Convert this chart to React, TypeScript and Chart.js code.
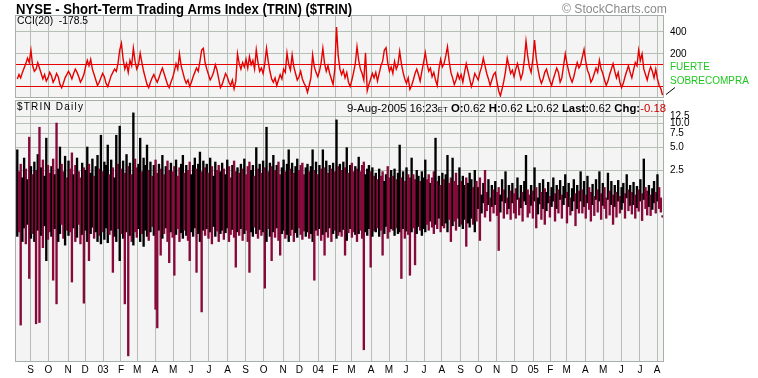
import React, { useEffect, useRef } from 'react';
import { Chart, registerables } from 'chart.js';

Chart.register(...registerables);

// ---------- data ----------
const totalDays = 758; // trading days Aug-8-2002 .. Aug-9-2005
const monthLabels = ['S','O','N','D','03','F','M','A','M','J','J','A','S','O','N','D','04','F','M','A','M','J','J','A','S','O','N','D','05','F','M','A','M','J','J','A'];
const monthStartDays = [17,38,61,81,102,123,142,163,184,205,226,248,269,290,313,332,354,374,393,416,437,457,478,499,521,542,563,584,606,626,645,667,688,709,731,751];

const cciTicks = [400, 200];
const cciBands = [100, -100];
const trinTicks = [12.5, 10, 7.5, 5, 2.5];
const trinTickLabels = ['12.5', '10.0', '7.5', '5.0', '2.5'];

// sampled every 2nd trading day (day = 2k+1)
const cciValues = [
  -30, 10, -20, 30, 70, 110, 160, 120, 233, 90,
  40, 60, 118, 70, 20, -30, 10, -50, -20, 30,
  0, -60, -30, 20, -10, -80, -110, -70, -20, 10,
  40, 10, -30, 20, 60, 30, -10, -60, -30, 10,
  80, 140, 90, 150, 60, 10, -40, -90, -60, -20,
  20, -10, -70, -100, -50, 0, 30, 60, 40, 110,
  233, 296, 150, 60, 110, 30, 140, 90, 250, 130,
  60, 100, 206, 120, 40, -20, -80, -110, -60, -20,
  10, -30, -60, -20, 30, 70, 20, -30, -80, -110,
  -60, -20, 40, 110, 60, 200, 90, 30, -30, -70,
  -40, -100, -60, -10, 30, 70, 40, 130, 233, 250,
  120, 60, 10, -40, -10, 30, 100, 50, -30, -110,
  -80, -30, 20, -10, -60, -90, -40, -120, -50, 200,
  110, 60, 120, 80, 150, 70, 175, 100, 140, 60,
  236, 120, 40, 70, 20, 110, 250, 130, 40, -30,
  -60, -20, -90, -40, 10, -30, 60, 30, 206, 100,
  50, 190, 80, 20, -40, -10, 40, -30, -70, -100,
  -152, -90, -20, 190, 80, 30, -10, 40, 120, 250,
  110, 40, 90, 20, -30, -80, 60, 445, 180, 60,
  10, 50, -20, 30, -60, -100, -40, 30, 110, 264,
  140, 60, 20, -40, 210, -137, -80, -30, 20, -20,
  30, -50, 20, 90, 130, 233, 255, 120, 40, 80,
  20, 130, 60, 100, 222, 110, 30, -30, -70, -20,
  -125, -90, -40, 20, 60, 10, -50, 40, 120, 210,
  110, 40, 70, -10, 30, -40, -90, 60, 150, 80,
  110, 180, 265, 130, 30, -20, -80, -40, 20, -30,
  10, -60, 30, 110, 40, -30, -100, -50, 20, -10,
  -40, 30, 80, 160, 90, 20, -30, -90, -40, 10,
  30, -60, -140, -185, -120, -50, 40, 160, 90, 20,
  50, -10, 60, 110, 40, -30, 20, 140, 316, 180,
  80, 30, 150, 325, 160, 60, -20, -70, -30, 30,
  60, 0, -50, -90, -30, 20, 70, 30, -60, -20,
  90, 200, 110, 40, -20, -60, -10, 60, 120, 70,
  100, 170, 240, 130, 50, 10, -60, -30, 20, 70,
  30, 140, 60, 20, -40, -90, -50, 10, 60, 110,
  40, -20, 30, -60, -110, -70, -10, 40, 90, 30,
  -20, 50, 120, 90, 233, 140, 200, 60, 10, -40,
  30, 80, 40, -20, 60, -30, -90, -120, -178.5,
];

const trinLow = [
  0.35, 0.4, 0.025, 0.3, 0.45, 0.28, 0.5, 0.1, 0.33, 0.38,
  0.3, 0.026, 0.42, 0.027, 0.36, 0.25, 0.48, 0.17, 0.32, 0.4,
  0.35, 0.095, 0.44, 0.047, 0.3, 0.38, 0.5, 0.33, 0.27, 0.42,
  0.36, 0.4, 0.09, 0.45, 0.3, 0.34, 0.5, 0.28, 0.37, 0.048,
  0.42, 0.3, 0.17, 0.38, 0.46, 0.33, 0.4, 0.3, 0.36, 0.28,
  0.4, 0.32, 0.45, 0.29, 0.37, 0.42, 0.12, 0.35, 0.3, 0.44,
  0.17, 0.38, 0.33, 0.047, 0.4, 0.01, 0.36, 0.3, 0.27, 0.4,
  0.34, 0.44, 0.3, 0.38, 0.26, 0.42, 0.35, 0.31, 0.4, 0.47,
  0.36, 0.04, 0.023, 0.42, 0.2, 0.33, 0.38, 0.45, 0.3, 0.16,
  0.4, 0.34, 0.11, 0.37, 0.44, 0.3, 0.39, 0.33, 0.42, 0.36,
  0.31, 0.17, 0.4, 0.35, 0.45, 0.12, 0.38, 0.3, 0.037, 0.42,
  0.36, 0.44, 0.33, 0.4, 0.28, 0.47, 0.35, 0.41, 0.3, 0.38,
  0.42, 0.32, 0.39, 0.45, 0.3, 0.37, 0.43, 0.34, 0.14, 0.4,
  0.36, 0.44, 0.31, 0.38, 0.42, 0.3, 0.12, 0.4, 0.35, 0.46,
  0.38, 0.33, 0.43, 0.36, 0.4, 0.075, 0.3, 0.44, 0.35, 0.17,
  0.4, 0.34, 0.45, 0.31, 0.2, 0.38, 0.42, 0.33, 0.37, 0.3,
  0.36, 0.43, 0.3, 0.39, 0.34, 0.45, 0.37, 0.32, 0.41, 0.35,
  0.4, 0.33, 0.38, 0.3, 0.095, 0.42, 0.36, 0.44, 0.31, 0.37,
  0.2, 0.4, 0.34, 0.45, 0.3, 0.38, 0.42, 0.33, 0.36, 0.4,
  0.35, 0.43, 0.2, 0.31, 0.39, 0.44, 0.34, 0.4, 0.37, 0.3,
  0.38, 0.42, 0.33, 0.012, 0.4, 0.36, 0.44, 0.14, 0.35, 0.41,
  0.4, 0.45, 0.35, 0.42, 0.2, 0.38, 0.47, 0.33, 0.4, 0.44,
  0.42, 0.36, 0.45, 0.38, 0.4, 0.1, 0.44, 0.33, 0.41, 0.37,
  0.11, 0.4, 0.45, 0.15, 0.38, 0.47, 0.42, 0.36, 0.44, 0.4,
  0.5, 0.42, 0.55, 0.46, 0.38, 0.5, 0.44, 0.6, 0.4, 0.48,
  0.45, 0.52, 0.4, 0.58, 0.3, 0.48, 0.55, 0.42, 0.6, 0.47,
  0.5, 0.44, 0.58, 0.26, 0.52, 0.46, 0.6, 0.5, 0.4, 0.55,
  0.8, 0.31, 0.7, 0.95, 0.62, 0.75, 0.9, 0.55, 0.85, 0.7,
  0.9, 0.65, 0.23, 0.72, 1.0, 0.6, 0.95, 0.68, 0.8, 0.58,
  0.95, 0.7, 0.6, 1.05, 0.66, 0.82, 0.55, 1.0, 0.9, 0.62,
  0.7, 0.88, 0.6, 1.0, 0.45, 0.68, 0.92, 0.58, 0.8, 0.5,
  0.75, 0.95, 0.62, 0.85, 1.0, 0.55, 0.8, 0.7, 1.05, 0.6,
  0.9, 1.1, 0.52, 0.85, 0.66, 0.75, 1.0, 0.48, 0.8, 0.7,
  1.0, 0.7, 0.85, 0.6, 0.95, 0.78, 0.55, 0.9, 0.65, 1.05,
  0.72, 1.0, 0.58, 0.88, 0.8, 0.6, 1.05, 0.66, 0.9, 0.5,
  0.85, 0.62, 1.0, 0.7, 0.78, 0.95, 0.6, 1.1, 0.75, 0.88,
  0.68, 0.9, 0.6, 0.82, 0.74, 1.0, 0.56, 1.05, 0.8, 0.66,
  0.85, 0.65, 0.78, 0.95, 0.7, 1.0, 0.8, 0.72, 0.62,
];

const trinHigh = [
  4.6, 2.4, 3.0, 2.0, 3.6, 2.6, 1.9, 6.7, 2.8, 2.2,
  3.2, 2.5, 4.0, 9.0, 2.7, 3.4, 2.1, 6.5, 2.9, 2.3,
  2.8, 3.5, 2.2, 10.2, 2.6, 5.0, 3.0, 2.4, 3.8, 2.0,
  3.3, 2.6, 4.2, 2.2, 2.9, 3.6, 2.4, 2.0, 3.1, 2.7,
  2.5, 5.0, 3.0, 2.3, 3.5, 2.1, 2.8, 3.9, 2.6, 7.1,
  2.4, 3.2, 2.9, 5.3, 2.2, 3.4, 2.7, 2.0, 7.1, 3.0,
  9.3, 2.6, 3.3, 2.3, 4.0, 2.8, 3.1, 2.2, 13.8, 3.5,
  2.7, 3.0, 6.5, 2.4, 3.6, 2.9, 5.3, 2.5, 3.2, 2.1,
  2.9, 3.4, 2.3, 3.0, 2.6, 3.9, 2.2, 2.8, 3.3, 2.5,
  3.1, 2.4, 2.8, 3.4, 2.1, 2.7, 3.0, 3.9, 2.3, 2.9,
  2.5, 3.2, 2.2, 2.9, 3.6, 2.6, 3.0, 4.3, 2.4, 3.3,
  2.7, 3.0, 2.3, 3.6, 2.8, 2.1, 3.2, 2.5, 2.9, 2.4,
  3.1, 2.6, 2.2, 3.4, 2.8, 2.0, 2.9, 3.3, 2.4, 2.7,
  2.3, 3.0, 2.6, 3.5, 2.2, 2.8, 3.2, 2.5, 2.9, 2.1,
  4.9, 2.6, 3.0, 2.3, 3.3, 2.7, 9.0, 2.4, 3.1, 2.8,
  3.9, 2.5, 2.9, 3.2, 2.2, 2.7, 3.4, 2.4, 3.0, 4.6,
  2.6, 3.1, 2.3, 2.8, 3.5, 2.5, 2.9, 3.1, 2.2, 2.7,
  3.0, 2.4, 2.8, 4.6, 2.5, 3.2, 2.2, 2.9, 2.6, 4.6,
  2.7, 3.3, 2.3, 2.9, 2.6, 3.1, 2.4, 11.2, 2.8, 3.0,
  2.5, 3.2, 2.7, 4.9, 2.3, 2.9, 3.1, 2.4, 2.8, 2.6,
  3.7, 2.4, 2.9, 3.2, 2.2, 2.6, 2.9, 2.4, 2.7, 2.1,
  2.3, 1.9, 2.6, 2.1, 2.4, 1.8, 2.2, 2.8, 2.0, 2.5,
  2.1, 2.6, 1.9, 2.3, 5.3, 2.0, 2.4, 1.8, 2.7, 2.2,
  2.0, 3.6, 2.2, 1.9, 2.5, 2.1, 1.8, 2.4, 2.0, 3.4,
  1.9, 2.2, 1.7, 2.0, 2.4, 6.5, 1.8, 2.1, 1.6, 2.3,
  1.9, 2.2, 3.9, 1.7, 2.0, 3.6, 1.8, 2.3, 1.6, 2.7,
  1.8, 2.1, 1.6, 2.0, 1.7, 2.3, 1.9, 1.5, 2.5, 1.8,
  1.5, 2.0, 1.2, 1.7, 2.5, 1.3, 1.9, 1.1, 1.6, 1.4,
  1.8, 1.3, 1.5, 1.2, 1.9, 1.4, 2.4, 1.1, 1.6, 1.35,
  1.7, 1.25, 1.45, 2.0, 1.1, 1.6, 1.3, 1.8, 3.9, 1.4,
  1.2, 1.6, 1.35, 2.7, 1.5, 1.1, 1.7, 1.3, 1.9, 1.45,
  1.3, 1.75, 1.15, 1.5, 2.0, 1.25, 1.6, 1.4, 1.85, 1.2,
  1.55, 2.2, 1.3, 1.7, 1.1, 1.45, 1.9, 1.25, 1.6, 1.35,
  2.4, 1.4, 1.8, 1.2, 2.1, 1.5, 1.3, 1.65, 1.15, 1.9,
  1.4, 2.4, 1.25, 1.7, 1.5, 1.1, 2.3, 1.35, 1.8, 1.2,
  1.6, 1.3, 1.85, 1.15, 1.5, 1.7, 1.25, 2.2, 1.4, 1.6,
  1.3, 1.75, 1.2, 1.55, 1.4, 1.9, 1.25, 3.5, 1.5, 1.35,
  1.6, 1.2, 1.45, 1.8, 1.3, 2.2, 1.5, 1.1, 0.62,
];

const titleText = 'NYSE - Short-Term Trading Arms Index (TRIN) ($TRIN)';
const copyrightText = '\u00A9 StockCharts.com';
const cciLabel = 'CCI(20)  -178.5';
const bandLabels = ['FUERTE', 'SOBRECOMPRA'];
const seriesLabel = '$TRIN Daily';
const headerSegments = [
  { t: '9-Aug-2005 16:23', bold: false, size: 11, color: '#000' },
  { t: 'ET', bold: false, size: 7.5, color: '#000' },
  { t: ' O:', bold: true, size: 11, color: '#000' },
  { t: '0.62', bold: false, size: 11, color: '#000' },
  { t: ' H:', bold: true, size: 11, color: '#000' },
  { t: '0.62', bold: false, size: 11, color: '#000' },
  { t: ' L:', bold: true, size: 11, color: '#000' },
  { t: '0.62', bold: false, size: 11, color: '#000' },
  { t: ' Last:', bold: true, size: 11, color: '#000' },
  { t: '0.62', bold: false, size: 11, color: '#000' },
  { t: ' Chg:', bold: true, size: 11, color: '#000' },
  { t: '-0.18', bold: false, size: 11, color: '#cc0000' },
];

// ---------- styling ----------
const FONT = '"Liberation Sans", Arial, Helvetica, sans-serif';
const GRID = '#b6bfb6';
const PLOT_BG = '#f4f4f4';
const CCI_RED = '#e60000';
const BAR_BLACK = '#000000';
const BAR_MAROON = '#850a3a';

function fitText(ctx: CanvasRenderingContext2D, text: string, x: number, y: number, font: string, color: string, width?: number) {
  ctx.save();
  ctx.font = font;
  ctx.fillStyle = color;
  ctx.textAlign = 'left';
  ctx.textBaseline = 'alphabetic';
  if (width) {
    const w = ctx.measureText(text).width;
    ctx.translate(x, y);
    ctx.scale(width / w, 1);
    ctx.fillText(text, 0, 0);
  } else {
    ctx.fillText(text, x, y);
  }
  ctx.restore();
}

const panelPlugin = {
  id: 'panelBg',
  beforeDraw(chart: any) {
    const { ctx, chartArea: a } = chart;
    ctx.save();
    ctx.fillStyle = PLOT_BG;
    ctx.fillRect(a.left, a.top, a.right - a.left, a.bottom - a.top);
    ctx.restore();
  },
  afterDraw(chart: any) {
    const { ctx, chartArea: a } = chart;
    ctx.save();
    ctx.strokeStyle = '#a8aea8';
    ctx.lineWidth = 1;
    ctx.strokeRect(Math.round(a.left) - 0.5, Math.round(a.top) - 0.5, Math.round(a.right - a.left) + 1, Math.round(a.bottom - a.top) + 1);
    ctx.restore();
  },
};

const topTextPlugin = {
  id: 'topText',
  afterDraw(chart: any) {
    const ctx = chart.ctx as CanvasRenderingContext2D;
    fitText(ctx, titleText, 16, 13.5, `bold 14px ${FONT}`, '#000', 336);
    fitText(ctx, copyrightText, 562, 12.5, `12px ${FONT}`, '#8a8a8a', 105);
    fitText(ctx, cciLabel, 17, 24, `10px ${FONT}`, '#000', 71);
    fitText(ctx, bandLabels[0], 670, 70, `10px ${FONT}`, '#1ec81e');
    fitText(ctx, bandLabels[1], 670, 84, `10px ${FONT}`, '#1ec81e');
    ctx.save();
    ctx.strokeStyle = '#000';
    ctx.lineWidth = 1;
    ctx.beginPath();
    ctx.moveTo(666, 94.5);
    ctx.lineTo(675, 87.5);
    ctx.stroke();
    ctx.restore();
  },
};

const bottomTextPlugin = {
  id: 'bottomText',
  afterDraw(chart: any) {
    const ctx = chart.ctx as CanvasRenderingContext2D;
    ctx.save();
    (ctx as any).letterSpacing = '1.2px';
    fitText(ctx, seriesLabel, 17, 10.5, `10px ${FONT}`, '#000');
    ctx.restore();
    // right aligned header, fitted to the reference width
    let total = 0;
    const widths: number[] = [];
    for (const s of headerSegments) {
      ctx.font = `${s.bold ? 'bold ' : ''}${s.size}px ${FONT}`;
      const w = ctx.measureText(s.t).width;
      widths.push(w);
      total += w;
    }
    const targetW = 319;
    const k = targetW / total;
    let x = 666 - targetW;
    headerSegments.forEach((s, i) => {
      fitText(ctx, s.t, x, 12.5, `${s.bold ? 'bold ' : ''}${s.size}px ${FONT}`, s.color, widths[i] * k);
      x += widths[i] * k;
    });
  },
};

function stripPadding(s: any) {
  s.paddingTop = 0;
  s.paddingBottom = 0;
  s.paddingLeft = 0;
  s.paddingRight = 0;
}

export default function App() {
  const topRef = useRef<HTMLCanvasElement | null>(null);
  const botRef = useRef<HTMLCanvasElement | null>(null);

  useEffect(() => {
    const xMin = -0.5;
    const xMax = totalDays - 0.5;
    const monthTicks = () => monthStartDays.map((d) => ({ value: d - 0.5 }));

    const top = new Chart(topRef.current as HTMLCanvasElement, {
      type: 'line',
      data: {
        datasets: [
          {
            data: cciValues.map((v, k) => ({ x: 2 * k + 1, y: v })),
            borderColor: CCI_RED,
            borderWidth: 1.4,
            pointRadius: 0,
            tension: 0,
            fill: false,
          },
        ],
      },
      options: {
        animation: false,
        responsive: false,
        maintainAspectRatio: false,
        events: [],
        layout: { autoPadding: false, padding: { left: 16, top: 16, right: 0, bottom: 0 } },
        plugins: { legend: { display: false }, tooltip: { enabled: false }, title: { display: false } },
        scales: {
          x: {
            type: 'linear',
            min: xMin,
            max: xMax,
            ticks: { display: false },
            grid: { color: GRID, drawTicks: false, lineWidth: 1 },
            border: { display: false },
            afterBuildTicks: (s: any) => { s.ticks = monthTicks(); },
            afterFit: (s: any) => { s.height = 2; stripPadding(s); },
          },
          y: {
            type: 'linear',
            position: 'right',
            min: -195,
            max: 545,
            ticks: {
              autoSkip: false,
              padding: 7,
              color: '#000',
              font: { size: 10, family: FONT },
              callback: (v: any) => (cciTicks.includes(Number(v)) ? String(v) : ''),
            },
            grid: {
              drawTicks: false,
              color: (c: any) => (c.tick && cciBands.includes(c.tick.value) ? CCI_RED : GRID),
              lineWidth: 1,
            },
            border: { display: false },
            afterBuildTicks: (s: any) => { s.ticks = [...cciTicks, ...cciBands].map((v) => ({ value: v })); },
            afterFit: (s: any) => { s.width = 95; stripPadding(s); },
          },
        },
      } as any,
      plugins: [panelPlugin, topTextPlugin],
    });

    const mids = trinLow.map((lo, k) => Math.sqrt(lo * trinHigh[k]));
    const bot = new Chart(botRef.current as HTMLCanvasElement, {
      type: 'bar',
      data: {
        datasets: [
          {
            data: trinLow.map((lo, k) => ({ x: 2 * k + 1, y: [lo, trinHigh[k]] })) as any,
            backgroundColor: (c: any) => {
              const i = c.dataIndex;
              if (i === undefined || i === 0) return BAR_BLACK;
              return mids[i] >= mids[i - 1] ? BAR_BLACK : BAR_MAROON;
            },
            borderWidth: 0,
            barThickness: 1.7,
            minBarLength: 1.5,
          },
        ],
      },
      options: {
        animation: false,
        responsive: false,
        maintainAspectRatio: false,
        events: [],
        layout: { autoPadding: false, padding: { left: 16, top: 2, right: 0, bottom: 0 } },
        plugins: { legend: { display: false }, tooltip: { enabled: false }, title: { display: false } },
        scales: {
          x: {
            type: 'linear',
            offset: false,
            min: xMin,
            max: xMax,
            grid: { offset: false, color: GRID, drawTicks: false, lineWidth: 1 },
            border: { display: false },
            ticks: {
              autoSkip: false,
              maxRotation: 0,
              padding: 3,
              color: '#000',
              font: { size: 10, family: FONT },
              callback: (_v: any, i: number) => monthLabels[i],
            },
            afterBuildTicks: (s: any) => { s.ticks = monthTicks(); },
            afterFit: (s: any) => { s.height = 17; stripPadding(s); },
          },
          y: {
            type: 'logarithmic',
            position: 'right',
            min: 0.00859,
            max: 19.65,
            ticks: {
              autoSkip: false,
              padding: 7,
              color: '#000',
              font: { size: 10, family: FONT },
              callback: (_v: any, i: number) => trinTickLabels[i],
            },
            grid: { drawTicks: false, color: GRID, lineWidth: 1 },
            border: { display: false },
            afterBuildTicks: (s: any) => { s.ticks = trinTicks.map((v) => ({ value: v })); },
            afterFit: (s: any) => { s.width = 95; stripPadding(s); },
          },
        },
      } as any,
      plugins: [panelPlugin, bottomTextPlugin],
    });

    return () => {
      top.destroy();
      bot.destroy();
    };
  }, []);

  return (
    <div style={{ position: 'fixed', left: 0, top: 0, width: 758, height: 378, background: '#fff', overflow: 'hidden' }}>
      <canvas ref={topRef} width={758} height={99} style={{ position: 'absolute', left: 0, top: 0, width: 758, height: 99 }} />
      <canvas ref={botRef} width={758} height={279} style={{ position: 'absolute', left: 0, top: 99, width: 758, height: 279 }} />
    </div>
  );
}
